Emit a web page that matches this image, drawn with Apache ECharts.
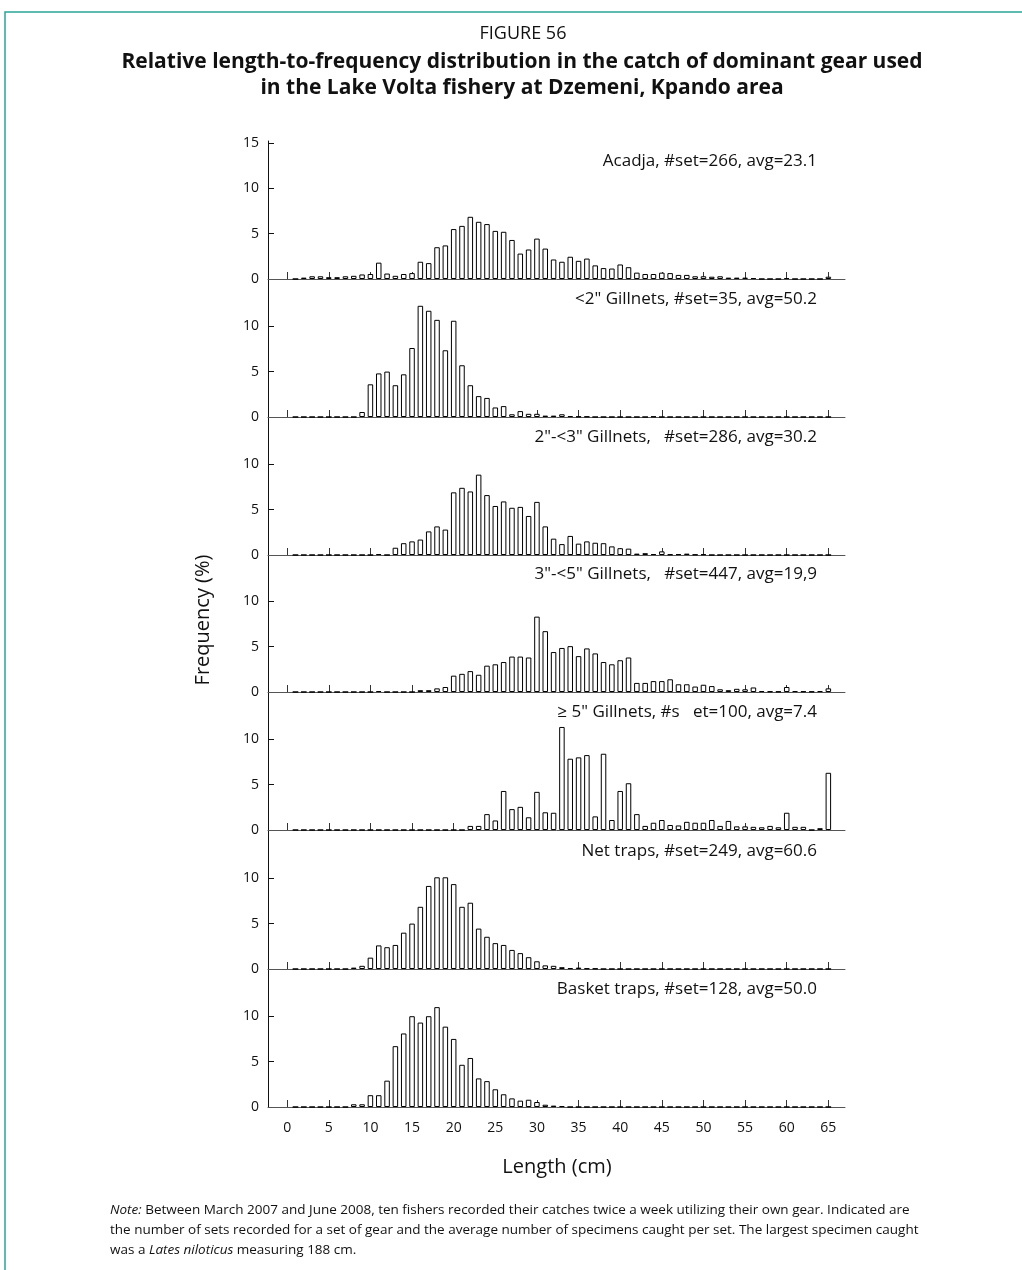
<!DOCTYPE html>
<html>
<head>
<meta charset="utf-8">
<title>Figure 56</title>
<script src="https://cdn.jsdelivr.net/npm/echarts@6/dist/echarts.min.js"></script>
<style>
html, body { margin: 0; padding: 0; background: #fff; }
#chart { width: 1022px; height: 1270px; }
</style>
</head>
<body>
<div id="chart"></div>
<script>
// length classes (cm)
var lengths = [1, 2, 3, 4, 5, 6, 7, 8, 9, 10, 11, 12, 13, 14, 15, 16, 17, 18, 19, 20,
  21, 22, 23, 24, 25, 26, 27, 28, 29, 30, 31, 32, 33, 34, 35, 36, 37, 38, 39, 40,
  41, 42, 43, 44, 45, 46, 47, 48, 49, 50, 51, 52, 53, 54, 55, 56, 57, 58, 59, 60,
  61, 62, 63, 64, 65];
var xTicks = [0, 5, 10, 15, 20, 25, 30, 35, 40, 45, 50, 55, 60, 65];

// frequency (%) per length class, one array per gear
var acadja = [0, 0.15, 0.3, 0.3, 0.2, 0.2, 0.3, 0.35, 0.5, 0.55,
  1.8, 0.6, 0.35, 0.55, 0.65, 1.9, 1.75, 3.5, 3.7, 5.5,
  5.85, 6.85, 6.3, 6.05, 5.3, 5.2, 4.3, 2.8, 3.25, 4.45,
  3.35, 2.15, 1.9, 2.45, 2.0, 2.25, 1.5, 1.2, 1.15, 1.6,
  1.3, 0.7, 0.55, 0.55, 0.7, 0.65, 0.45, 0.45, 0.3, 0.3,
  0.25, 0.3, 0.15, 0.15, 0.15, 0.1, 0, 0, 0, 0.1,
  0, 0, 0, 0, 0.25];
var gill2 = [0, 0, 0, 0, 0, 0, 0, 0, 0.55, 3.6,
  4.8, 5.0, 3.5, 4.7, 7.6, 12.25, 11.7, 10.7, 7.35, 10.6,
  5.7, 3.5, 2.3, 2.1, 1.05, 1.2, 0.3, 0.65, 0.35, 0.35,
  0.15, 0.15, 0.3, 0.1, 0.05, 0.05, 0, 0, 0, 0,
  0, 0, 0, 0.05, 0, 0, 0, 0, 0, 0,
  0, 0, 0, 0, 0, 0, 0, 0, 0, 0,
  0, 0, 0, 0, 0];
var gill2to3 = [0, 0, 0, 0, 0, 0, 0, 0, 0, 0,
  0.1, 0, 0.8, 1.3, 1.5, 1.7, 2.6, 3.15, 2.8, 6.9,
  7.4, 7.0, 8.85, 6.6, 5.4, 5.9, 5.2, 5.3, 4.3, 5.85,
  3.15, 1.8, 1.2, 2.1, 1.25, 1.5, 1.35, 1.3, 0.95, 0.75,
  0.7, 0.15, 0.2, 0.1, 0.4, 0.07, 0.1, 0.15, 0.05, 0.07,
  0, 0, 0, 0, 0, 0, 0, 0, 0, 0,
  0, 0, 0, 0, 0];
var gill3to5 = [0, 0, 0, 0, 0, 0, 0, 0, 0, 0,
  0.1, 0, 0, 0, 0, 0.2, 0.2, 0.4, 0.55, 1.8,
  2.0, 2.3, 1.9, 2.9, 3.05, 3.3, 3.9, 3.9, 3.8, 8.3,
  6.7, 4.4, 4.85, 5.05, 3.95, 4.8, 4.25, 3.3, 3.05, 3.5,
  3.8, 1.0, 1.0, 1.2, 1.2, 1.4, 0.85, 0.85, 0.6, 0.8,
  0.65, 0.3, 0.2, 0.35, 0.3, 0.5, 0.1, 0.07, 0.05, 0.55,
  0.1, 0.07, 0.05, 0.1, 0.4];
var gill5 = [0, 0, 0, 0, 0, 0, 0, 0, 0, 0,
  0, 0, 0, 0, 0, 0, 0, 0, 0, 0,
  0, 0.45, 0.45, 1.75, 1.05, 4.3, 2.3, 2.55, 1.4, 4.2,
  1.95, 1.9, 11.35, 7.85, 8.0, 8.25, 1.5, 8.4, 1.1, 4.3,
  5.15, 1.75, 0.45, 0.8, 1.1, 0.55, 0.5, 0.9, 0.8, 0.8,
  1.1, 0.45, 1.0, 0.4, 0.4, 0.35, 0.3, 0.45, 0.3, 1.9,
  0.35, 0.35, 0, 0.2, 6.3];
var netTraps = [0, 0, 0, 0, 0, 0, 0, 0.15, 0.35, 1.25,
  2.6, 2.4, 2.65, 4.0, 5.0, 6.85, 9.15, 10.1, 10.1, 9.35,
  6.85, 7.3, 4.45, 3.55, 2.85, 2.65, 2.1, 1.75, 1.3, 0.85,
  0.4, 0.35, 0.2, 0.1, 0.15, 0.07, 0.05, 0, 0, 0,
  0, 0, 0, 0, 0, 0, 0, 0, 0, 0,
  0, 0, 0, 0, 0, 0, 0, 0, 0, 0,
  0, 0, 0, 0, 0];
var basketTraps = [0, 0, 0, 0, 0, 0, 0, 0.3, 0.3, 1.3,
  1.3, 2.9, 6.7, 8.1, 10.0, 9.3, 10.0, 11.0, 8.85, 7.5,
  4.65, 5.4, 3.15, 2.85, 1.95, 1.4, 0.95, 0.7, 0.8, 0.55,
  0.25, 0.15, 0.1, 0, 0, 0, 0, 0, 0, 0,
  0, 0, 0, 0, 0, 0, 0, 0, 0, 0,
  0, 0, 0, 0, 0, 0, 0, 0, 0, 0,
  0, 0, 0, 0, 0];

var panelLabels = [
  'Acadja, #set=266, avg=23.1',
  '<2" Gillnets, #set=35, avg=50.2',
  '2"-<3" Gillnets,   #set=286, avg=30.2',
  '3"-<5" Gillnets,   #set=447, avg=19,9',
  '\u2265 5" Gillnets, #s   et=100, avg=7.4',
  'Net traps, #set=249, avg=60.6',
  'Basket traps, #set=128, avg=50.0'
];
var panelData = [acadja, gill2, gill2to3, gill3to5, gill5, netTraps, basketTraps];

var FONT = "'Open Sans', 'Noto Sans', sans-serif";
var zeroY = [279, 417, 555, 692, 830, 969, 1107]; // pixel row of each panel's 0 line
var panelH = 138;
var gridLeft = 268, gridW = 577;

var grids = [], xAxes = [], yAxes = [], series = [], labels = [];
for (var i = 0; i < panelData.length; i++) {
  var last = i === panelData.length - 1;
  var yVals = i === 0 ? [0, 5, 10, 15] : [0, 5, 10];
  grids.push({ left: gridLeft, top: zeroY[i] - panelH, width: gridW, height: panelH });
  xAxes.push({
    gridIndex: i,
    type: 'value',
    min: -2.3,
    max: 67,
    axisLine: { show: true, onZero: false, lineStyle: { color: '#555', width: 1 } },
    axisTick: { show: true, inside: true, length: 7, customValues: xTicks, lineStyle: { color: '#333' } },
    axisLabel: { show: last, customValues: xTicks, margin: 14, fontSize: 14, color: '#111', fontFamily: FONT },
    splitLine: { show: false }
  });
  yAxes.push({
    gridIndex: i,
    type: 'value',
    min: 0,
    max: 15.2,
    axisLine: { show: true, onZero: false, lineStyle: { color: '#111', width: 1 } },
    axisTick: { show: true, inside: true, length: 6, customValues: yVals.slice(1), lineStyle: { color: '#111' } },
    axisLabel: { customValues: yVals, margin: 9, fontSize: 14, color: '#111', fontFamily: FONT },
    splitLine: { show: false }
  });
  series.push({
    type: 'bar',
    xAxisIndex: i,
    yAxisIndex: i,
    barWidth: 5.5,
    silent: true,
    itemStyle: { color: '#fff', borderColor: '#000', borderWidth: 1 },
    data: lengths.map(function (l, j) { return [l, panelData[i][j]]; })
  });
  labels.push({
    type: 'text',
    x: 817,
    y: zeroY[i] - panelH + 20,
    style: { text: panelLabels[i], font: '17px ' + FONT, fill: '#111', align: 'right', verticalAlign: 'middle' }
  });
}

var noteRich = { i: { font: 'italic 13.5px ' + FONT, fill: '#111' } };
var graphics = [
  { type: 'polyline', shape: { points: [[5, 1270], [5, 12], [1022, 12]] }, style: { stroke: '#2aa596', lineWidth: 1.5, fill: null } },
  { type: 'text', x: 523, y: 34, style: { text: 'FIGURE 56', font: '18px ' + FONT, fill: '#111', align: 'center', verticalAlign: 'middle' } },
  { type: 'text', x: 522, y: 62, style: { text: 'Relative length-to-frequency distribution in the catch of dominant gear used', font: 'bold 21px ' + FONT, fill: '#111', align: 'center', verticalAlign: 'middle' } },
  { type: 'text', x: 522, y: 88, style: { text: 'in the Lake Volta fishery at Dzemeni, Kpando area', font: 'bold 21px ' + FONT, fill: '#111', align: 'center', verticalAlign: 'middle' } },
  { type: 'text', x: 203, y: 620, rotation: Math.PI / 2, style: { text: 'Frequency (%)', font: '20px ' + FONT, fill: '#111', align: 'center', verticalAlign: 'middle' } },
  { type: 'text', x: 557, y: 1167, style: { text: 'Length (cm)', font: '20px ' + FONT, fill: '#111', align: 'center', verticalAlign: 'middle' } },
  { type: 'text', x: 110, y: 1210, style: { text: '{i|Note:} Between March 2007 and June 2008, ten fishers recorded their catches twice a week utilizing their own gear. Indicated are', rich: noteRich, font: '13.5px ' + FONT, fill: '#111', verticalAlign: 'middle' } },
  { type: 'text', x: 110, y: 1230, style: { text: 'the number of sets recorded for a set of gear and the average number of specimens caught per set. The largest specimen caught', font: '13.5px ' + FONT, fill: '#111', verticalAlign: 'middle' } },
  { type: 'text', x: 110, y: 1250, style: { text: 'was a {i|Lates niloticus} measuring 188 cm.', rich: noteRich, font: '13.5px ' + FONT, fill: '#111', verticalAlign: 'middle' } }
].concat(labels);

var chart = echarts.init(document.getElementById('chart'), null, { renderer: 'canvas' });
chart.setOption({
  animation: false,
  backgroundColor: '#fff',
  grid: grids,
  xAxis: xAxes,
  yAxis: yAxes,
  series: series,
  graphic: graphics
});
</script>
</body>
</html>
